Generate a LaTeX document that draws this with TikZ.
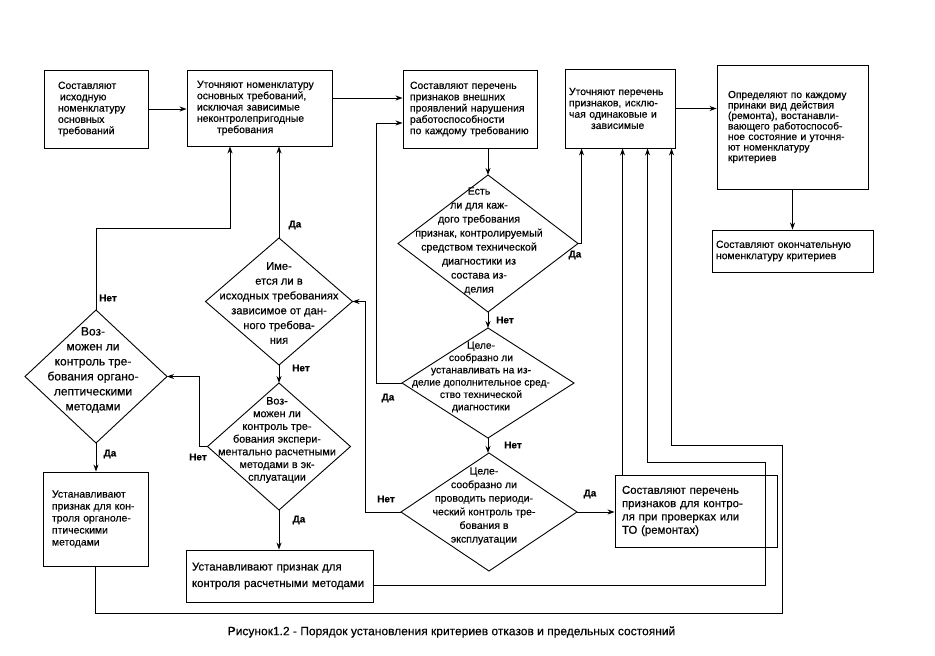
\documentclass[tikz,border=0pt]{standalone}
\usepackage{fontspec}
\setmainfont{Liberation Sans}[FakeBold=0.4]
\usetikzlibrary{shapes.geometric,arrows.meta}
\begin{document}
\begin{tikzpicture}[
    x=1pt, y=-1pt,
    box/.style={rectangle, draw, line width=0.9pt, align=left, inner ysep=2pt, font=\fontsize{10.4}{11.3}\selectfont},
    dia/.style={diamond, draw, line width=0.9pt, inner sep=0pt, outer sep=0pt},
    dtxt/.style={align=center, inner sep=0pt},
    lbl/.style={font=\fontsize{10}{12}\selectfont\bfseries, inner sep=0pt},
    arr/.style={->, >={Stealth[length=7pt, width=5pt]}, line width=0.9pt}
]
    \useasboundingbox (0,0) rectangle (935,656);
    \node[box, text width=76pt, inner xsep=14pt, minimum height=78pt] (b1) at (96,109) {Составляют\\\hspace*{2pt}исходную\\номенклатуру\\основных\\требований};
    \node[box, text width=125pt, inner xsep=10pt, minimum height=76pt] (b2) at (259.5,108) {Уточняют номенклатуру\\основных требований,\\исключая зависимые\\неконтролепригодные\\\hspace*{20pt}требования};
    \node[box, text width=120pt, inner xsep=7pt, minimum height=78pt] (b3) at (470,109) {Составляют перечень\\признаков внешних\\проявлений нарушения\\работоспособности\\по каждому требованию};
    \node[box, text width=102pt, inner xsep=4pt, minimum height=79pt] (b4) at (620,108.5) {Уточняют перечень\\признаков, исклю-\\чая одинаковые и\\\hspace*{22pt}зависимые};
    \node[box, text width=129pt, inner xsep=11pt, minimum height=124pt, font=\fontsize{10.2}{10.5}\selectfont] (b5) at (792.5,127) {Определяют по каждому\\принаки вид действия\\(ремонта), востанавли-\\вающего работоспособ-\\ное состояние и уточня-\\ют номенклатуру\\критериев};
    \node[box, text width=153pt, inner xsep=4pt, minimum height=42pt] (b6) at (792.5,251) {Составляют окончательную\\номенклатуру критериев};
    \node[box, text width=148pt, inner xsep=7pt, minimum height=72pt, font=\fontsize{11.4}{13.3}\selectfont] (b7) at (696,511) {Составляют перечень\\признаков для контро-\\ля при проверках или\\ТО (ремонтах)};
    \node[box, text width=175pt, inner xsep=6pt, minimum height=52pt, font=\fontsize{11.4}{16.5}\selectfont] (b8) at (279.5,576) {Устанавливают признак для\\контроля расчетными методами};
    \node[box, text width=87pt, inner xsep=9pt, minimum height=94pt, font=\fontsize{10.4}{12}\selectfont] (b9) at (95.5,519) {Устанавливают\\признак для кон-\\троля органоле-\\птическими\\методами};

    \node[dia, minimum width=180pt, minimum height=137pt] (d1) at (488,243.5) {};
    \node[dia, minimum width=172pt, minimum height=110pt] (d2) at (488,383) {};
    \node[dia, minimum width=176pt, minimum height=118pt] (d3) at (489,512) {};
    \node[dia, minimum width=147pt, minimum height=127pt] (d4) at (279,301.5) {};
    \node[dia, minimum width=142pt, minimum height=133pt] (d5) at (96,376.5) {};
    \node[dia, minimum width=143pt, minimum height=127pt] (d6) at (279,446.5) {};

    \node[dtxt, font=\fontsize{10.6}{14}\selectfont] (d1t) at (479,241) {Есть\\ли для каж-\\дого требования\\признак, контролируемый\\средством технической\\диагностики из\\состава из-\\делия};
    \node[dtxt, font=\fontsize{10.2}{12.3}\selectfont] (d2t) at (481,377) {Целе-\\сообразно ли\\устанавливать на из-\\делие дополнительное сред-\\ство технической\\диагностики};
    \node[dtxt, font=\fontsize{10.5}{13.6}\selectfont] (d3t) at (484,506) {Целе-\\сообразно ли\\проводить периоди-\\ческий контроль тре-\\бования в\\эксплуатации};
    \node[dtxt, font=\fontsize{11.2}{14.8}\selectfont] (d4t) at (279,303) {Име-\\ется ли в\\исходных требованиях\\зависимое от дан-\\ного требова-\\ния};
    \node[dtxt, font=\fontsize{12}{15}\selectfont] (d5t) at (93,370) {Воз-\\можен ли\\контроль тре-\\бования органо-\\лептическими\\методами};
    \node[dtxt, font=\fontsize{10.8}{12.7}\selectfont] (d6t) at (277,440) {Воз-\\можен ли\\контроль тре-\\бования экспери-\\ментально расчетными\\методами в эк-\\сплуатации};

    \node[lbl] (d4yes) at (295,225) {Да};
    \node[lbl] (d4no) at (301,368) {Нет};
    \node[lbl] (d6no) at (198,457) {Нет};
    \node[lbl] (d6yes) at (299,520) {Да};
    \node[lbl] (d5no) at (108,298) {Нет};
    \node[lbl] (d5yes) at (110,454) {Да};
    \node[lbl] (d1yes) at (575,255) {Да};
    \node[lbl] (d1no) at (505,320) {Нет};
    \node[lbl] (d2yes) at (388,398) {Да};
    \node[lbl] (d2no) at (513,445) {Нет};
    \node[lbl] (d3no) at (386,499) {Нет};
    \node[lbl] (d3yes) at (590,494) {Да};

    \coordinate (k1) at (230,228);
    \coordinate (r1) at (765,462);
    \coordinate (r2) at (782,445);
    \coordinate (r3) at (782,613);

    \draw[arr] (b1.east) -- (b1.east -| b2.west);
    \draw[arr] ([yshift=10pt]b2.east) -- ([yshift=10pt]b2.east -| b3.west);
    \draw[arr] (b3.south -| d1.north) -- (d1.north);
    \draw[arr] (b4.east) -- (b4.east -| b5.west);
    \draw[arr] (b5.south) -- (b6.north);
    \draw[arr] (d1.east) -| ([xshift=17pt]b4.south west);
    \draw[arr] (d1.south) -- (d2.north);
    \draw[arr] (d2.west) -| ([xshift=-26pt, yshift=-14pt]b3.west) -- ([yshift=-14pt]b3.west);
    \draw[arr] (d2.south) -- (d2.south |- d3.north);
    \draw[arr] (d3.west) -| ([xshift=13pt]d4.east) -- (d4.east);
    \draw[arr] (d3.east) -- (d3.east -| b7.west);
    \draw[arr] ([xshift=8pt]b7.north west) -- ([xshift=8pt]b7.north west |- b4.south);
    \draw[arr] ([yshift=-9pt]b8.east) -| (r1) -| ([xshift=83pt]b4.south west);
    \draw[arr] (b9.south) |- (r3) -- (r2) -| ([xshift=107pt]b4.south west);
    \draw[arr] (d4.north) -- (d4.north |- b2.south);
    \draw[arr] (d4.south) -- (d4.south |- d6.north);
    \draw[arr] (d6.south) -- (d6.south |- b8.north);
    \draw[arr] (d6.west) -| ([xshift=32pt]d5.east) -- (d5.east);
    \draw[arr] (d5.north) |- (k1) -- (k1 |- b2.south);
    \draw[arr] (d5.south) -- (d5.south |- b9.north);

    \node[font=\fontsize{12}{14}\selectfont] (title) at (451.5,632) {Рисунок1.2 - Порядок установления критериев отказов и предельных состояний};
\end{tikzpicture}
\end{document}
